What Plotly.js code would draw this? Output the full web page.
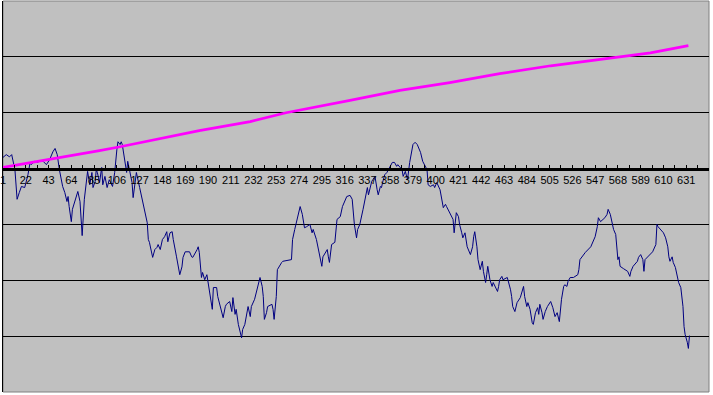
<!DOCTYPE html>
<html>
<head>
<meta charset="utf-8">
<script src="https://cdn.plot.ly/plotly-3.0.1.min.js"></script>
<style>html,body{margin:0;padding:0;background:#fff;}#chart{width:713px;height:395px;}</style>
</head>
<body>
<div id="chart"></div>
<script>
// Navy series (category index, value)
var navyX = [1,4,7,9,12,14,16,18,21,24,26,27,30,32,35,38,41,44,47,49,51,53,56,58,60,61,62,64,65,69,70,72,74,76,78,79,81,83,84,86,87,88,90,92,93,95,97,99,102,104,106,107,109,110,111,113,115,116,118,120,121,122,124,127,130,134,135,136,139,141,143,144,146,148,150,152,153,155,157,158,161,164,166,167,169,173,175,176,180,181,182,184,185,187,189,190,192,194,195,198,199,203,204,206,207,210,212,213,215,216,218,221,222,224,226,227,229,230,233,236,238,240,241,242,244,245,249,250,251,253,254,258,259,267,268,270,272,275,277,278,279,281,284,286,287,290,293,295,296,298,300,301,302,304,307,309,312,314,318,321,323,325,327,328,330,333,335,337,338,339,341,342,344,346,347,349,350,351,353,355,358,360,362,364,365,369,370,372,374,376,379,381,383,386,388,392,393,395,398,399,401,404,407,409,410,413,416,417,419,421,422,424,425,427,429,432,434,435,436,438,439,441,443,444,446,447,448,450,452,453,455,457,458,459,461,462,466,467,469,470,471,473,475,478,481,482,484,485,487,489,490,492,494,495,496,498,499,501,503,506,507,508,510,512,514,516,518,519,521,522,524,527,531,532,533,535,538,543,545,547,549,550,552,554,556,558,559,561,563,564,566,568,569,570,573,577,579,580,582,586,587,589,591,592,593,595,598,600,603,604,605,609,610,612,614,615,616,618,619,621,623,624,626,628,629,630,632,633,634];
var navyY = [0.20,0.25,0.21,0.25,-0.02,-0.55,-0.43,-0.32,-0.34,-0.11,0.11,0.07,0.13,0.11,0.13,0.13,0.07,0.16,0.30,0.36,0.25,-0.02,-0.32,-0.43,-0.59,-0.50,-0.68,-0.95,-0.73,-0.50,-0.41,-0.59,-1.20,-0.55,-0.14,-0.05,-0.29,-0.07,-0.34,-0.23,-0.02,-0.07,-0.25,0.02,-0.29,-0.14,-0.34,-0.20,-0.32,-0.07,0.34,0.48,0.43,0.48,0.43,0.21,-0.07,0.13,-0.07,-0.25,-0.52,-0.34,-0.07,-0.34,-0.61,-0.97,-1.27,-1.32,-1.59,-1.45,-1.41,-1.36,-1.45,-1.27,-1.22,-1.13,-1.31,-1.15,-1.13,-1.27,-1.58,-1.90,-1.76,-1.59,-1.49,-1.49,-1.58,-1.59,-1.45,-1.40,-1.50,-1.95,-1.86,-1.99,-1.90,-2.02,-2.29,-2.52,-2.13,-2.13,-2.29,-2.58,-2.67,-2.47,-2.43,-2.38,-2.56,-2.31,-2.61,-2.52,-2.79,-3.03,-2.88,-2.79,-2.52,-2.47,-2.65,-2.47,-2.34,-2.13,-1.95,-2.11,-2.29,-2.70,-2.58,-2.47,-2.43,-2.52,-2.70,-2.29,-1.81,-1.68,-1.66,-1.63,-1.27,-1.09,-0.91,-0.68,-0.82,-0.95,-1.06,-1.04,-1.00,-1.15,-1.09,-1.27,-1.54,-1.75,-1.58,-1.50,-1.45,-1.58,-1.68,-1.36,-1.32,-0.91,-0.86,-0.68,-0.50,-0.48,-0.55,-1.00,-1.24,-1.09,-1.00,-0.73,-0.50,-0.34,-0.47,-0.38,-0.23,-0.20,-0.14,-0.38,-0.47,-0.32,-0.34,-0.25,-0.11,-0.07,0.04,0.11,0.11,0.04,0.07,-0.02,-0.14,-0.05,-0.20,0.11,0.43,0.47,0.43,0.29,0.13,-0.02,-0.29,-0.32,-0.29,-0.34,-0.25,-0.38,-0.70,-0.64,-0.68,-0.79,-0.91,-1.15,-0.79,-0.86,-1.00,-1.15,-1.24,-1.15,-1.40,-1.54,-1.40,-1.22,-1.13,-1.40,-1.63,-1.81,-1.66,-1.84,-2.04,-1.90,-1.75,-1.99,-2.11,-2.04,-2.13,-2.20,-2.11,-1.99,-1.93,-1.99,-1.95,-2.02,-2.17,-2.29,-2.47,-2.56,-2.40,-2.31,-2.11,-2.29,-2.47,-2.40,-2.52,-2.76,-2.79,-2.58,-2.49,-2.61,-2.43,-2.58,-2.70,-2.56,-2.47,-2.38,-2.43,-2.49,-2.65,-2.58,-2.74,-2.34,-2.11,-2.08,-2.11,-2.02,-1.95,-1.95,-1.90,-1.81,-1.63,-1.58,-1.50,-1.40,-1.32,-1.22,-1.04,-0.88,-0.95,-0.91,-0.88,-0.82,-0.73,-0.82,-0.97,-1.09,-1.18,-1.63,-1.58,-1.75,-1.79,-1.84,-1.93,-1.84,-1.75,-1.66,-1.59,-1.54,-1.63,-1.84,-1.63,-1.59,-1.54,-1.49,-1.36,-1.00,-1.04,-1.13,-1.15,-1.24,-1.40,-1.58,-1.66,-1.58,-1.68,-1.77,-1.93,-2.04,-2.13,-2.47,-2.83,-2.97,-3.11,-3.22,-2.99];

// Magenta series
var magX = [1,44,90,109,136,182,229,262,321,367,413,459,506,552,570,598,633];
var magY = [0.02,0.16,0.32,0.39,0.50,0.68,0.84,1.00,1.22,1.40,1.54,1.70,1.84,1.95,2.00,2.07,2.20];

// Axis tick labels
var tickVals = [];
var tickText = [];
for (var t = 1; t <= 631; t += 21) { tickVals.push(t); tickText.push(String(t)); }
var gridVals = [-3,-2,-1,1,2];

var traces = [
  {x: navyX, y: navyY, type: 'scatter', mode: 'lines', line: {color: '#000080', width: 1}, hoverinfo: 'skip'},
  {x: magX, y: magY, type: 'scatter', mode: 'lines', line: {color: '#FF00FF', width: 2.7}, hoverinfo: 'skip'}
];

var layout = {
  width: 713, height: 395,
  margin: {l: 3, r: 4, t: 1, b: 3, pad: 0},
  paper_bgcolor: '#ffffff',
  plot_bgcolor: '#C0C0C0',
  showlegend: false,
  font: {family: 'Liberation Sans, Arial, sans-serif', size: 11, color: '#000000'},
  xaxis: {
    range: [1, 652],
    anchor: 'free', position: 4/7,
    showline: true, linecolor: '#000000', linewidth: 3,
    showgrid: false, zeroline: false,
    tickmode: 'array', tickvals: tickVals, ticktext: tickText,
    ticklabeloverflow: 'allow',
    ticks: 'inside', ticklen: 3, tickwidth: 1, tickcolor: '#000000',
    minor: {tickmode: 'linear', tick0: 1, dtick: 10.5, ticks: 'inside', ticklen: 3, tickwidth: 1, tickcolor: '#000000', showgrid: false},
    tickfont: {family: 'Liberation Sans, Arial, sans-serif', size: 11, color: '#000000'},
    fixedrange: true
  },
  yaxis: {
    range: [-4, 3],
    tickmode: 'array', tickvals: gridVals,
    showticklabels: false, ticks: '',
    showgrid: true, gridcolor: '#000000', gridwidth: 1,
    zeroline: false,
    showline: true, linecolor: '#000000', linewidth: 1,
    fixedrange: true
  },
  shapes: [
    {type: 'rect', xref: 'paper', yref: 'paper', x0: 0, x1: 1, y0: 0, y1: 1, layer: 'below', line: {color: '#808080', width: 1}, fillcolor: 'rgba(0,0,0,0)'}
  ]
};

Plotly.newPlot('chart', traces, layout, {displayModeBar: false, staticPlot: true});
</script>
</body>
</html>
